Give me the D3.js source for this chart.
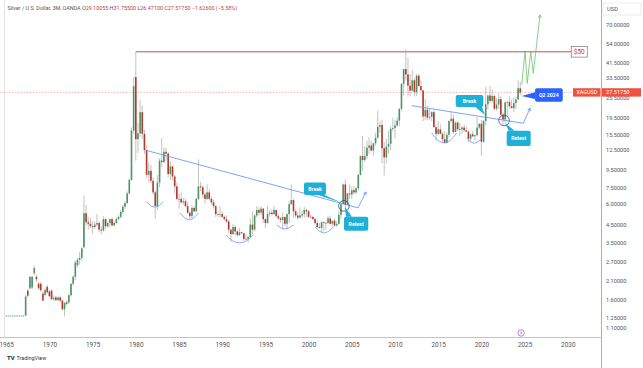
<!DOCTYPE html>
<html><head><meta charset="utf-8">
<script src="https://cdn.jsdelivr.net/npm/d3@7"></script>
<style>
body{margin:0;background:#fff}
svg{display:block}
text{font-family:Roboto,"Liberation Sans",Arial,sans-serif}
</style>
</head><body>
<svg id="chart" width="643" height="368"></svg>
<script>
// ---------------- DATA (quarterly, 3M bars, from 1965 Q1) ----------------
const startYear = 1965;
const open = [
1.293,1.293,1.293,1.293, 1.293,1.293,1.293,1.293, 1.293,1.293,1.82,1.88,
1.90,2.31,2.20,2.00, 2.00,1.75,1.72,1.92, 1.80,1.82,1.62,1.66,
1.60,1.66,1.59,1.41, 1.55,1.55,1.71,2.00, 2.20,2.58,2.78,2.85,
3.30,5.26,4.65,4.55, 4.40,4.35,4.50,4.60, 4.20,4.15,4.85,4.40,
4.60,4.85,4.45,4.60, 4.85,5.00,5.35,5.75, 6.05,6.90,8.30,16.3,
34.0,14.5,15.7,21.0, 15.6,12.5,8.9,9.4, 8.2,7.0,5.8,8.0,
10.8,10.6,12.2,11.9, 9.0,10.0,8.7,7.6, 6.4,6.4,6.1,6.2,
5.8,5.3,5.05,5.65, 5.4,6.4,7.6,7.5, 6.8,6.4,7.0,6.4,
6.1,5.8,5.2,5.15, 5.2,5.0,4.85,4.7, 4.2,3.95,4.35,4.1,
3.9,4.05,4.0,3.7, 3.7,3.8,4.5,4.2, 5.1,5.5,5.3,5.6,
4.85,4.6,5.2,5.3, 5.2,5.5,5.05,4.9, 4.8,5.0,4.55,5.2,
5.95,6.3,5.4,5.1, 4.95,5.1,5.2,5.5, 5.4,5.0,5.0,4.85,
4.6,4.35,4.3,4.65, 4.6,4.6,4.9,4.55, 4.75,4.45,4.55,5.15,
5.95,7.8,5.9,6.9, 6.8,7.2,7.0,7.4, 8.9,11.5,10.9,11.5,
12.9,13.3,12.4,13.7, 14.8,17.2,17.6,12.8, 11.3,13.1,13.6,16.7,
16.9,17.5,18.7,22.0, 30.9,37.9,35.2,30.2, 28.2,32.5,27.6,34.6,
30.0,28.3,19.8,21.7, 19.5,19.7,21.0,17.1, 15.6,16.6,15.6,14.5,
13.8,15.4,18.6,19.2, 16.0,18.2,16.6,16.6, 17.0,16.4,16.1,14.6,
15.5,15.1,15.3,17.0, 17.9,14.0,18.6,23.4, 26.4,24.5,26.2,22.0,
23.3,25.1,20.3,19.0, 24.0,24.1,22.8,22.2, 23.8,24.95,29.10055
];
const high = [
1.295,1.295,1.295,1.295, 1.295,1.295,1.295,1.295, 1.30,1.72,1.87,2.22,
2.25,2.57,2.28,2.05, 2.05,1.80,1.88,1.96, 1.85,1.86,1.70,1.70,
1.68,1.70,1.62,1.56, 1.60,1.74,2.02,2.25, 2.75,2.85,3.10,3.30,
6.70,5.90,5.00,4.90, 4.70,4.70,5.20,4.70, 4.40,5.05,4.90,4.70,
4.90,4.95,4.70,4.95, 5.10,5.50,5.90,6.20, 7.10,8.50,17.0,34.0,
48.0,18.0,25.0,23.0, 16.5,13.3,10.5,10.2, 8.6,7.2,8.9,11.2,
14.7,12.9,12.9,12.1, 10.7,10.0,8.9,8.0, 6.9,7.0,6.5,6.4,
6.1,5.4,5.9,5.8, 6.5,11.0,8.1,7.7, 7.0,7.8,7.3,6.6,
6.3,5.9,5.4,5.8, 5.4,5.1,5.1,4.8, 4.2,4.55,4.45,4.2,
4.3,4.1,4.0,3.95, 3.85,4.9,5.4,5.2, 5.8,5.7,5.8,5.65,
4.9,5.8,5.5,5.6, 5.8,5.5,5.2,5.0, 5.3,5.0,5.2,6.2,
7.8,6.4,5.6,5.3, 5.7,5.4,5.75,5.6, 5.5,5.15,5.05,4.95,
4.75,4.6,4.7,4.7, 4.7,5.1,5.05,4.75, 4.9,4.75,5.4,5.95,
7.9,8.35,6.9,7.8, 7.6,7.6,7.5,9.0, 11.6,15.2,13.2,14.2,
14.9,14.2,13.8,15.8, 21.4,18.5,19.0,14.0, 14.6,16.3,17.3,19.4,
18.8,19.6,22.1,31.3, 38.2,49.8,44.2,35.4, 37.5,33.4,35.4,35.4,
32.5,28.4,25.1,23.0, 22.2,21.3,21.6,17.6, 18.5,17.8,16.0,16.2,
15.9,18.8,21.1,20.3, 18.5,18.6,18.2,17.3, 17.7,17.3,16.3,15.5,
16.2,15.4,19.6,18.0, 18.9,18.9,29.8,26.5, 30.1,28.7,26.7,25.4,
27.0,26.2,20.9,24.3, 24.6,26.1,25.0,25.9, 25.8,32.5,31.755
];
const low = [
1.29,1.29,1.29,1.29, 1.29,1.29,1.29,1.29, 1.29,1.29,1.66,1.85,
1.85,2.25,2.05,1.85, 1.80,1.57,1.68,1.75, 1.66,1.60,1.58,1.58,
1.57,1.56,1.39,1.28, 1.48,1.52,1.68,1.95, 2.10,2.50,2.60,2.75,
3.25,4.45,4.20,4.30, 3.95,4.25,4.40,4.05, 3.95,4.10,4.25,4.30,
4.35,4.40,4.40,4.55, 4.80,4.90,5.20,5.55, 5.95,6.80,8.20,15.5,
10.8,12.0,15.0,14.5, 11.8,8.5,8.0,7.9, 6.8,4.88,5.5,7.5,
9.9,10.4,10.8,8.6, 8.3,8.2,6.9,6.3, 5.6,6.0,5.9,5.7,
5.2,4.85,4.9,5.3, 5.35,6.3,7.1,6.5, 6.0,6.3,6.3,5.9,
5.6,5.0,5.0,4.95, 4.95,4.75,4.6,4.0, 3.55,3.9,3.9,3.8,
3.85,3.95,3.6,3.65, 3.52,3.75,3.95,4.1, 4.95,5.1,5.1,4.6,
4.3,4.55,5.0,5.1, 5.15,4.95,4.8,4.6, 4.2,4.4,4.2,4.6,
5.9,4.95,4.95,4.8, 4.9,4.95,4.95,5.0, 4.95,4.9,4.8,4.55,
4.3,4.25,4.05,4.1, 4.2,4.55,4.5,4.4, 4.35,4.35,4.5,4.85,
5.95,5.5,5.9,6.4, 6.4,6.8,6.85,7.2, 8.8,9.4,10.6,11.0,
11.8,12.3,11.6,13.3, 14.6,15.8,10.4,8.8, 10.4,11.9,12.5,16.2,
14.7,17.2,17.3,21.3, 26.4,32.3,26.0,26.1, 27.9,26.1,26.2,29.8,
28.2,18.6,18.8,18.8, 18.9,18.6,17.0,14.2, 15.3,15.5,13.9,13.6,
13.7,14.9,18.2,15.6, 15.9,16.2,15.2,15.6, 16.0,16.0,13.9,14.0,
14.9,14.3,15.1,16.5, 11.6,13.8,17.5,21.8, 23.8,24.0,21.4,21.4,
22.0,20.2,17.6,18.1, 19.9,22.1,22.1,21.0, 21.9,24.9,26.471
];
const close = [
1.293,1.293,1.293,1.293, 1.293,1.293,1.293,1.293, 1.293,1.68,1.70,2.20,
2.20,2.48,2.13,1.88, 1.83,1.59,1.84,1.78, 1.69,1.62,1.65,1.60,
1.66,1.59,1.41,1.54, 1.52,1.71,2.00,2.20, 2.68,2.78,2.85,3.25,
5.26,4.65,4.55,4.40, 4.35,4.50,4.60,4.20, 4.15,4.85,4.40,4.60,
4.85,4.45,4.60,4.85, 5.00,5.35,5.75,6.05, 6.90,8.30,16.3,30.0,
14.5,15.7,21.0,15.6, 12.5,8.9,9.4,8.2, 7.0,5.8,8.0,10.8,
10.6,12.2,11.9,9.0, 10.0,8.7,7.6,6.4, 6.4,6.1,6.2,5.8,
5.3,5.05,5.65,5.4, 6.4,7.6,7.5,6.8, 6.4,7.0,6.4,6.1,
5.8,5.2,5.15,5.2, 5.0,4.85,4.7,4.2, 3.95,4.35,4.1,3.9,
4.05,4.0,3.7,3.7, 3.8,4.5,4.2,5.1, 5.5,5.3,5.6,4.85,
4.6,5.2,5.3,5.2, 5.5,5.05,4.9,4.8, 5.0,4.55,5.2,5.95,
6.3,5.4,5.1,4.95, 5.1,5.2,5.5,5.4, 5.0,5.0,4.85,4.6,
4.35,4.3,4.65,4.6, 4.6,4.9,4.55,4.75, 4.45,4.55,5.15,5.95,
7.8,5.9,6.9,6.8, 7.2,7.0,7.4,8.9, 11.5,10.9,11.5,12.9,
13.3,12.4,13.7,14.8, 17.2,17.6,12.8,11.3, 13.1,13.6,16.7,16.9,
17.5,18.7,22.0,30.9, 37.9,35.2,30.2,28.2, 32.5,27.6,34.6,30.0,
28.3,19.8,21.7,19.5, 19.7,21.0,17.1,15.6, 16.6,15.6,14.5,13.8,
15.4,18.6,19.2,16.0, 18.2,16.6,16.6,17.0, 16.4,16.1,14.6,15.5,
15.1,15.3,17.0,17.9, 14.0,18.6,23.4,26.4, 24.5,26.2,22.0,23.3,
25.1,20.3,19.0,24.0, 24.1,22.8,22.2,23.8, 24.95,29.14,27.5175
];

const priceTicks = [70,54,41.5,33.5,25.5,19.5,15.5,12.5,9.5,7.5,6,4.5,3.5,2.7,2.1,1.6,1.25,1.1];
const yearTicks = [1965,1970,1975,1980,1985,1990,1995,2000,2005,2010,2015,2020,2025,2030];
const symbol = "XAGUSD";
const lastPrice = 27.5175;
const headerTitle = "Silver / U.S. Dollar, 3M, OANDA";
const headerValues = [["O","29.10055"],["H","31.75500"],["L","26.47100"],["C","27.51750"],["","\u22121.62600 (\u22125.58%)"]];
const resistance = {from:1980.0, to:2030.4, price:48.0, label:"$50"};

// annotation anchors: [decimal year, price]
const trendOld = [[1981.06,12.5],[2005.72,5.66],[2006.64,7.04]];
const trendNew = [[2011.93,22.96],[2024.85,18.04],[2025.63,22.15]];
const retestCircles = [[2004.09,5.81],[2022.62,18.74]];
const cupArcs = [ // [start year, end year, rim price, bottom price]
 [1981.24,1983.16,6.16,5.71],[1985.12,1987.23,5.28,4.80],[1990.44,1993.57,3.91,3.50],
 [1996.30,1998.24,4.48,4.24],[2000.74,2002.86,4.36,4.01],
 [2014.24,2017.13,15.8,13.8],[2018.30,2020.06,14.8,13.7]];
const projection = [[2024.67,30.5],[2025.05,48.1],[2025.31,31.2],[2025.71,48.1],[2026.01,35.8],[2026.78,79.5]];
const callouts = [
 {text:"Break", tip:[2003.83,6.08]},
 {text:"Retest", tip:[2004.21,5.73]},
 {text:"Break", tip:[2020.42,20.2]},
 {text:"Retest", tip:[2022.73,18.1]},
 {text:"Q2 2024", tip:[2024.67,26.2]}
];
const eventMarkerYear = 2024.6;

// ---------------- DRAWING ----------------
const W = 643, H = 368, plotRight = 601, plotBottom = 337;
const svg = d3.select("#chart");
const x = d3.scaleLinear().domain([1970, 2030]).range([49.4, 567.8]);
const y = d3.scaleLog().domain([0.965, 97.6]).range([plotBottom, 0]);

svg.append("defs").append("clipPath").attr("id","plot")
  .append("rect").attr("x",0).attr("y",0).attr("width",plotRight).attr("height",plotBottom);

const plot = svg.append("g").attr("clip-path","url(#plot)");

// left faint frame line
plot.append("line").attr("x1",4.5).attr("x2",4.5).attr("y1",0).attr("y2",plotBottom)
  .attr("stroke","#dcdcdc").attr("stroke-width",0.8);

// last price dashed line
plot.append("line").attr("x1",0).attr("x2",plotRight)
  .attr("y1",y(lastPrice)).attr("y2",y(lastPrice))
  .attr("stroke","#f2a49c").attr("stroke-width",0.8).attr("stroke-dasharray","1.5,1.5");

// resistance line
plot.append("line").attr("x1",x(resistance.from)).attr("x2",x(resistance.to))
  .attr("y1",y(resistance.price)).attr("y2",y(resistance.price))
  .attr("stroke","#c8343f").attr("stroke-width",0.9);

// candles
const bars = open.map((o,i)=>({t:startYear+i*0.25,o,h:high[i],l:low[i],c:close[i]}));
const up = "#4b9467", dn = "#b3392d";
plot.append("g").selectAll("line").data(bars).join("line")
  .attr("x1",d=>x(d.t)).attr("x2",d=>x(d.t))
  .attr("y1",d=>y(d.h)).attr("y2",d=>y(d.l))
  .attr("stroke","#a8a8a8").attr("stroke-width",0.7);
plot.append("g").selectAll("rect").data(bars).join("rect")
  .attr("x",d=>x(d.t)-0.8).attr("width",1.6)
  .attr("y",d=>Math.min(y(d.o),y(d.c)))
  .attr("height",d=>Math.max(0.7,Math.abs(y(d.o)-y(d.c))))
  .attr("fill",d=>d.c>=d.o?up:dn);

// cup arcs
const blueLight = "#6b9bf2";
cupArcs.forEach(a=>{
  const x1=x(a[0]), x2=x(a[1]), yr=y(a[2]), yb=y(a[3]);
  const cx=(x1+x2)/2, cy=2*yb-yr;
  plot.append("path").attr("d",`M${x1},${yr} Q${cx},${cy} ${x2},${yr}`)
    .attr("fill","none").attr("stroke",blueLight).attr("stroke-width",0.8);
});

function arrowHead(g,p1,p2,size,color){
  const a=Math.atan2(p2[1]-p1[1],p2[0]-p1[0]);
  const l=[p2[0]-size*Math.cos(a-0.5),p2[1]-size*Math.sin(a-0.5)];
  const r=[p2[0]-size*Math.cos(a+0.5),p2[1]-size*Math.sin(a+0.5)];
  g.append("path").attr("d",`M${l}L${p2}L${r}`).attr("fill","none")
   .attr("stroke",color).attr("stroke-width",0.8);
}
const line = d3.line().x(d=>x(d[0])).y(d=>y(d[1]));
[trendOld,trendNew].forEach(tr=>{
  plot.append("path").attr("d",line(tr)).attr("fill","none")
    .attr("stroke","#5b8ff0").attr("stroke-width",0.8);
  const p1=[x(tr[1][0]),y(tr[1][1])], p2=[x(tr[2][0]),y(tr[2][1])];
  arrowHead(plot,p1,p2,3.2,"#5b8ff0");
});

// retest circles
retestCircles.forEach(c=>{
  plot.append("circle").attr("cx",x(c[0])).attr("cy",y(c[1])).attr("r",5.3)
    .attr("fill","none").attr("stroke","#2d4f8f").attr("stroke-width",0.8);
});

// projection path
plot.append("path").attr("d",line(projection)).attr("fill","none")
  .attr("stroke","#6cc070").attr("stroke-width",0.8);
{
  const n=projection.length;
  arrowHead(plot,[x(projection[n-2][0]),y(projection[n-2][1])],[x(projection[n-1][0]),y(projection[n-1][1])],3.2,"#6cc070");
}

// callouts (box offsets relative to tip, in px)
const calloutStyle = [
  {dx:-37.7,dy:-20.2,w:22,h:12.5,fill:"#1fb0d8",tail:"br"},
  {dx:-1,dy:9.7,w:24.3,h:14,fill:"#1fb0d8",tail:"tl"},
  {dx:-29.3,dy:-20,w:27.6,h:12,fill:"#1fb0d8",tail:"br"},
  {dx:1.7,dy:7.7,w:24,h:15.3,fill:"#1fb0d8",tail:"tl"},
  {dx:13.3,dy:-7.7,w:27.7,h:13.4,fill:"#2962ff",tail:"l"}
];
callouts.forEach((c,i)=>{
  const s=calloutStyle[i];
  const tx=x(c.tip[0]), ty=y(c.tip[1]);
  const bx=tx+s.dx, by=ty+s.dy;
  let tri;
  if(s.tail==="br") tri=[[bx+s.w-8,by+s.h],[bx+s.w-1.5,by+s.h],[tx,ty]];
  else if(s.tail==="tl") tri=[[bx+2,by],[bx+8,by],[tx,ty]];
  else tri=[[bx,by+s.h*0.3],[bx,by+s.h*0.8],[tx,ty]];
  svg.append("path").attr("d","M"+tri.join("L")+"Z").attr("fill",s.fill);
  svg.append("rect").attr("x",bx).attr("y",by).attr("width",s.w).attr("height",s.h)
    .attr("rx",2).attr("fill",s.fill);
  svg.append("text").attr("x",bx+s.w/2).attr("y",by+s.h/2+1.9)
    .attr("text-anchor","middle").attr("font-size",5.2).attr("font-weight","bold")
    .attr("fill","#fff").text(c.text);
});

// resistance label
{
  const lx=x(resistance.to), ly=y(resistance.price);
  svg.append("rect").attr("x",lx).attr("y",ly-5.3).attr("width",16).attr("height",10.6)
    .attr("fill","#fff").attr("stroke","#777").attr("stroke-width",0.7);
  svg.append("text").attr("x",lx+8).attr("y",ly+2.2).attr("text-anchor","middle")
    .attr("font-size",6.5).attr("fill","#e0303a").text(resistance.label);
}

// axes frame
svg.append("line").attr("x1",plotRight+0.5).attr("x2",plotRight+0.5).attr("y1",0).attr("y2",H)
  .attr("stroke","#9a9a9a").attr("stroke-width",0.8);
svg.append("line").attr("x1",0).attr("x2",plotRight).attr("y1",plotBottom+0.5).attr("y2",plotBottom+0.5)
  .attr("stroke","#b5b5b5").attr("stroke-width",0.8);

// right axis
const yAxis = svg.append("g").attr("transform",`translate(${plotRight},0)`)
  .call(d3.axisRight(y).tickValues(priceTicks).tickFormat(d=>d.toFixed(5)).tickSize(0).tickPadding(5));
yAxis.select(".domain").remove();
yAxis.selectAll("text").attr("font-size",5.6).attr("fill","#555").attr("font-family","Roboto,Arial,sans-serif");

// bottom axis
const xAxis = svg.append("g").attr("transform",`translate(0,${plotBottom})`)
  .call(d3.axisBottom(x).tickValues(yearTicks).tickFormat(d3.format("d")).tickSize(0).tickPadding(5));
xAxis.select(".domain").remove();
xAxis.selectAll("text").attr("font-size",6.4).attr("fill","#555").attr("font-family","Roboto,Arial,sans-serif");

// USD header box
svg.append("rect").attr("x",plotRight+2).attr("y",3).attr("width",38).attr("height",12)
  .attr("fill","#fff").attr("stroke","#e4e4e4").attr("stroke-width",0.7);
svg.append("text").attr("x",plotRight+6).attr("y",11.3).attr("font-size",5.8).attr("fill","#555").text("USD");

// symbol + last price labels
{
  const ly=y(lastPrice);
  const red="#ef5340";
  svg.append("rect").attr("x",plotRight-28).attr("y",ly-4.2).attr("width",27.5).attr("height",8.4).attr("fill",red);
  svg.append("text").attr("x",plotRight-14.2).attr("y",ly+2).attr("text-anchor","middle")
    .attr("font-size",5.4).attr("fill","#fff").text(symbol);
  svg.append("rect").attr("x",plotRight+1).attr("y",ly-4.2).attr("width",39).attr("height",8.4).attr("fill",red);
  svg.append("text").attr("x",plotRight+5).attr("y",ly+2).attr("font-size",5.6).attr("fill","#fff")
    .text(lastPrice.toFixed(5));
}

// event marker
{
  const ex=x(eventMarkerYear), ey=plotBottom-4;
  svg.append("circle").attr("cx",ex).attr("cy",ey).attr("r",3.2).attr("fill","#fff")
    .attr("stroke","#a24fd6").attr("stroke-width",0.7);
  svg.append("path").attr("d",`M${ex+0.6},${ey-2.2}L${ex-1.1},${ey+0.3}L${ex+0.2},${ey+0.3}L${ex-0.6},${ey+2.3}L${ex+1.2},${ey-0.5}L${ex-0.1},${ey-0.5}Z`)
    .attr("fill","#a24fd6");
}

// header legend
{
  const t=svg.append("text").attr("x",7.5).attr("y",10).attr("font-size",5.4).attr("fill","#555");
  t.append("tspan").text(headerTitle+"  ");
  headerValues.forEach(v=>{
    t.append("tspan").attr("fill","#555").text(v[0]);
    t.append("tspan").attr("fill","#b8443a").text(v[1]+" ");
  });
}

// TradingView footer
svg.append("text").attr("x",7).attr("y",359.5).attr("font-size",6).attr("font-weight","bold")
  .attr("fill","#222").text("TV");
svg.append("text").attr("x",16.5).attr("y",359.5).attr("font-size",5.4).attr("fill","#333").text("TradingView");
</script>
</body></html>
